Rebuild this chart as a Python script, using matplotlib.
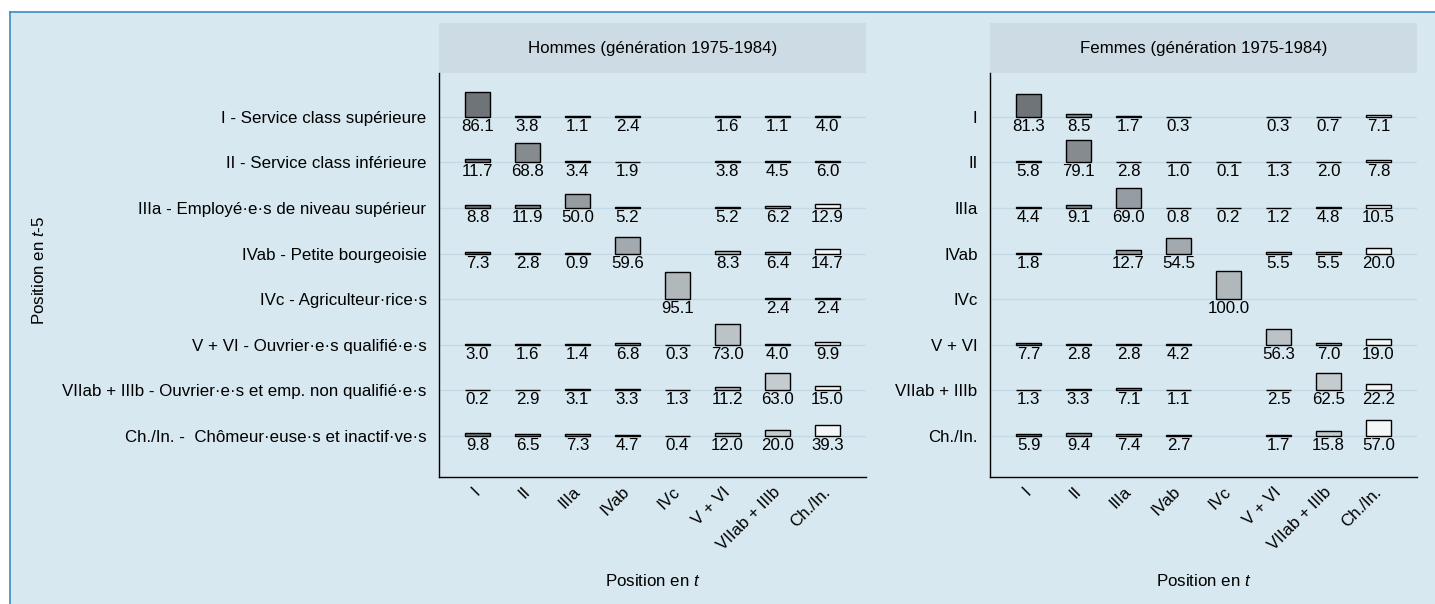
import numpy as np
import matplotlib
matplotlib.use("Agg")
import matplotlib.pyplot as plt
from matplotlib.patches import Rectangle
from matplotlib.lines import Line2D

plt.rcParams['font.family'] = ['Liberation Sans', 'DejaVu Sans']
plt.rcParams['mathtext.fontset'] = 'custom'
plt.rcParams['mathtext.rm'] = 'Liberation Sans'
plt.rcParams['mathtext.it'] = 'Liberation Sans:italic'

nan = np.nan

# categories
cols = ["I", "II", "IIIa", "IVab", "IVc", "V + VI", "VIIab + IIIb", "Ch./In."]
rows_hommes = ["I - Service class supérieure",
               "II - Service class inférieure",
               "IIIa - Employé·e·s de niveau supérieur",
               "IVab - Petite bourgeoisie",
               "IVc - Agriculteur·rice·s",
               "V + VI - Ouvrier·e·s qualifié·e·s",
               "VIIab + IIIb - Ouvrier·e·s et emp. non qualifié·e·s",
               "Ch./In. -  Chômeur·euse·s et inactif·ve·s"]
rows_femmes = cols

# percentages, rows = position en t-5, columns = position en t
hommes = np.array([
    [86.1, 3.8, 1.1, 2.4, nan, 1.6, 1.1, 4.0],
    [11.7, 68.8, 3.4, 1.9, nan, 3.8, 4.5, 6.0],
    [8.8, 11.9, 50.0, 5.2, nan, 5.2, 6.2, 12.9],
    [7.3, 2.8, 0.9, 59.6, nan, 8.3, 6.4, 14.7],
    [nan, nan, nan, nan, 95.1, nan, 2.4, 2.4],
    [3.0, 1.6, 1.4, 6.8, 0.3, 73.0, 4.0, 9.9],
    [0.2, 2.9, 3.1, 3.3, 1.3, 11.2, 63.0, 15.0],
    [9.8, 6.5, 7.3, 4.7, 0.4, 12.0, 20.0, 39.3],
])
femmes = np.array([
    [81.3, 8.5, 1.7, 0.3, nan, 0.3, 0.7, 7.1],
    [5.8, 79.1, 2.8, 1.0, 0.1, 1.3, 2.0, 7.8],
    [4.4, 9.1, 69.0, 0.8, 0.2, 1.2, 4.8, 10.5],
    [1.8, nan, 12.7, 54.5, nan, 5.5, 5.5, 20.0],
    [nan, nan, nan, nan, 100.0, nan, nan, nan],
    [7.7, 2.8, 2.8, 4.2, nan, 56.3, 7.0, 19.0],
    [1.3, 3.3, 7.1, 1.1, nan, 2.5, 62.5, 22.2],
    [5.9, 9.4, 7.4, 2.7, nan, 1.7, 15.8, 57.0],
])

titles = ["Hommes (génération 1975-1984)", "Femmes (génération 1975-1984)"]
col_colors = ["#6f7478", "#858b8f", "#969da2", "#a3aaaf",
              "#b1b8bc", "#bcc3c7", "#c5ccd0", "#f4f6f7"]

BG = "#d7e8f0"
STRIP = "#cddce4"
GRID = "#c3d9e5"
FS = 12.2
K = 0.0062  # row units per percent

fig = plt.figure(figsize=(14.35, 6.04), dpi=100)
fig.patch.set_facecolor("white")
fig.add_artist(Rectangle((10 / 1435, 0), 1, 1 - 12 / 604, transform=fig.transFigure,
                         facecolor=BG, edgecolor="none", zorder=-10))
fig.add_artist(Line2D([10 / 1435, 1], [1 - 12 / 604] * 2, transform=fig.transFigure,
                      color="#3a8cc0", lw=1.2))
fig.add_artist(Line2D([10 / 1435] * 2, [0, 1 - 12 / 604], transform=fig.transFigure,
                      color="#3a8cc0", lw=1.2))

W, H = 427 / 1435, 404 / 604
bottom = 1 - 477 / 604
lefts = [439 / 1435, 990 / 1435]

x = np.arange(1, 9)
for p, (data, ylabels, title) in enumerate(zip([hommes, femmes], [rows_hommes, rows_femmes], titles)):
    ax = fig.add_axes([lefts[p], bottom, W, H])
    ax.set_facecolor(BG)
    ax.set_xlim(0.23, 8.77)
    ax.set_ylim(8.9, 0.04)
    for r in range(8):
        ax.axhline(r + 1, color=GRID, lw=1, zorder=0)
        for c in range(8):
            v = data[r, c]
            if np.isnan(v):
                continue
            ax.bar(x[c], -v * K, bottom=r + 1, width=0.5, color=col_colors[c],
                   edgecolor="black", linewidth=1.0, zorder=2)
            ax.annotate(f"{v:.1f}", (x[c], r + 1), xytext=(0, -1.5),
                        textcoords="offset points", ha="center", va="top",
                        fontsize=FS, zorder=3)
    ax.set_yticks(np.arange(1, 9))
    ax.set_yticklabels(ylabels, fontsize=FS)
    ax.set_xticks(x)
    ax.set_xticklabels(cols, fontsize=FS, rotation=45, ha="right", va="center",
                       rotation_mode="anchor")
    ax.tick_params(axis="y", length=0, pad=9)
    ax.tick_params(axis="x", length=0, pad=9)
    for s in ["top", "right"]:
        ax.spines[s].set_visible(False)
    for s in ["left", "bottom"]:
        ax.spines[s].set_linewidth(1.0)
    ax.add_patch(Rectangle((0, 1), 1, 50 / 404, transform=ax.transAxes,
                           facecolor=STRIP, edgecolor="none", clip_on=False))
    ax.text(0.5, 1 + 25 / 404, title, transform=ax.transAxes, ha="center",
            va="center", fontsize=FS)
    ax.set_xlabel("Position en $t$", fontsize=FS)
    ax.xaxis.set_label_coords(0.5, -0.238)
    if p == 0:
        ax.set_ylabel("Position en $t$-5", fontsize=FS)
        ax.yaxis.set_label_coords(-0.918, 0.512)

plt.savefig("out.png", dpi=100, facecolor=fig.get_facecolor())
